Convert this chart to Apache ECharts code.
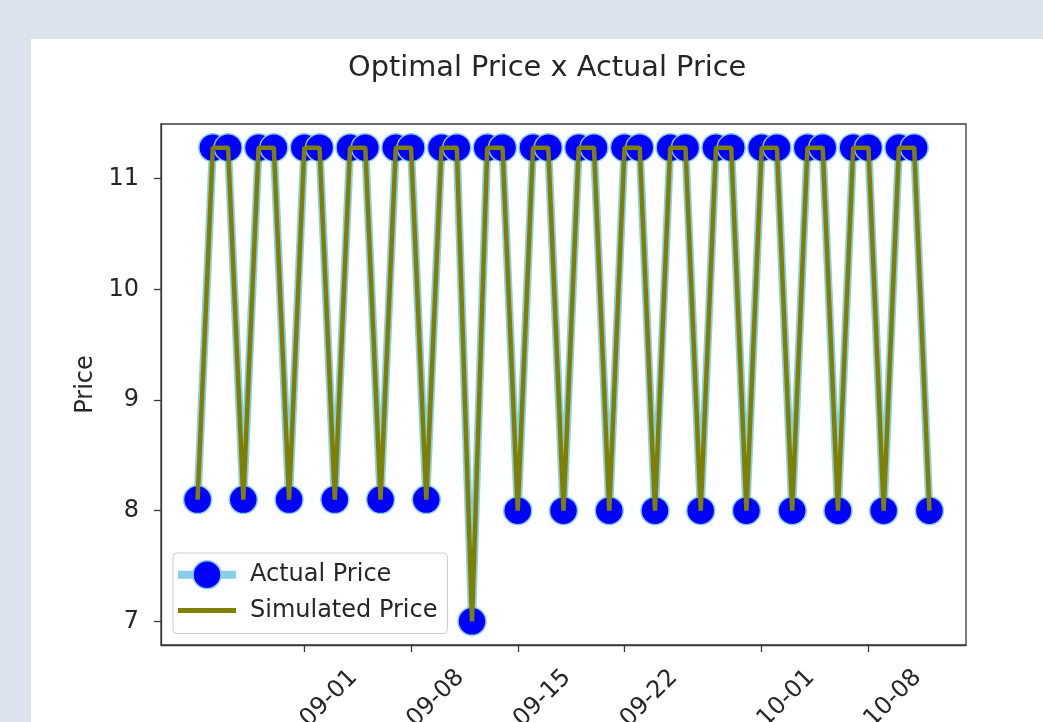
<!DOCTYPE html>
<html>
<head>
<meta charset="utf-8">
<script src="https://cdn.jsdelivr.net/npm/echarts@6/dist/echarts.min.js"></script>
<style>
  html, body { margin: 0; padding: 0; background: #dce3ec; }
  #chart { width: 1043px; height: 722px; }
</style>
</head>
<body>
<div id="chart"></div>
<script>
// Daily observations
const dates = [
  '2019-08-25','2019-08-26','2019-08-27','2019-08-28','2019-08-29','2019-08-30','2019-08-31',
  '2019-09-01','2019-09-02','2019-09-03','2019-09-04','2019-09-05','2019-09-06','2019-09-07',
  '2019-09-08','2019-09-09','2019-09-10','2019-09-11','2019-09-12','2019-09-13','2019-09-14',
  '2019-09-15','2019-09-16','2019-09-17','2019-09-18','2019-09-19','2019-09-20','2019-09-21',
  '2019-09-22','2019-09-23','2019-09-24','2019-09-25','2019-09-26','2019-09-27','2019-09-28',
  '2019-09-29','2019-09-30','2019-10-01','2019-10-02','2019-10-03','2019-10-04','2019-10-05',
  '2019-10-06','2019-10-07','2019-10-08','2019-10-09','2019-10-10','2019-10-11','2019-10-12'
];

const actualPrice = [
  8.1, 11.28, 11.28, 8.1, 11.28, 11.28, 8.1, 11.28, 11.28, 8.1, 11.28, 11.28,
  8.1, 11.28, 11.28, 8.1, 11.28, 11.28, 7.0, 11.28, 11.28, 8.0, 11.28, 11.28,
  8.0, 11.28, 11.28, 8.0, 11.28, 11.28, 8.0, 11.28, 11.28, 8.0, 11.28, 11.28,
  8.0, 11.28, 11.28, 8.0, 11.28, 11.28, 8.0, 11.28, 11.28, 8.0, 11.28, 11.28,
  8.0
];

const simulatedPrice = [
  8.1, 11.28, 11.28, 8.1, 11.28, 11.28, 8.1, 11.28, 11.28, 8.1, 11.28, 11.28,
  8.1, 11.28, 11.28, 8.1, 11.28, 11.28, 7.0, 11.28, 11.28, 8.0, 11.28, 11.28,
  8.0, 11.28, 11.28, 8.0, 11.28, 11.28, 8.0, 11.28, 11.28, 8.0, 11.28, 11.28,
  8.0, 11.28, 11.28, 8.0, 11.28, 11.28, 8.0, 11.28, 11.28, 8.0, 11.28, 11.28,
  8.0
];

const xTickDates = ['2019-09-01', '2019-09-08', '2019-09-15', '2019-09-22', '2019-10-01', '2019-10-08'];
const yTickValues = [7, 8, 9, 10, 11];

const FONT = 'DejaVu Sans';
const TEXT = '#262626';
const AXIS = '#3a3a3a';
const SKY = '#87ceeb';
const BLUE = '#0000ff';
const OLIVE = '#808000';

function toUTC(s) {
  const p = s.split('-').map(Number);
  return Date.UTC(p[0], p[1] - 1, p[2]);
}
function pad(n) { return n < 10 ? '0' + n : '' + n; }
function fmtDate(ms) {
  const d = new Date(ms);
  return d.getUTCFullYear() + '-' + pad(d.getUTCMonth() + 1) + '-' + pad(d.getUTCDate());
}

const xs = dates.map(toUTC);
const actualData = xs.map((x, i) => [x, actualPrice[i]]);
const simulatedData = xs.map((x, i) => [x, simulatedPrice[i]]);
const xTicks = xTickDates.map(toUTC);

// 5% padding on both axes, the way the plotting defaults pad data limits
const xMinData = Math.min(...xs), xMaxData = Math.max(...xs);
const xPad = (xMaxData - xMinData) * 0.05;
const allY = actualPrice.concat(simulatedPrice);
const yMinData = Math.min(...allY), yMaxData = Math.max(...allY);
const yPad = (yMaxData - yMinData) * 0.05;

const chart = echarts.init(document.getElementById('chart'), null, { renderer: 'canvas' });

chart.setOption({
  backgroundColor: '#dce3ec',
  animation: false,
  graphic: [{
    type: 'rect',
    z: -10,
    silent: true,
    shape: { x: 31, y: 39, width: 1012, height: 683 },
    style: { fill: '#ffffff' }
  }],
  title: {
    text: 'Optimal Price x Actual Price',
    left: 348,
    top: 54,
    padding: 0,
    textStyle: { fontFamily: FONT, fontSize: 28.8, fontWeight: 'normal', color: TEXT }
  },
  legend: {
    orient: 'vertical',
    left: 173,
    top: 553,
    padding: [7, 10, 9, 1],
    itemGap: 7,
    itemWidth: 58,
    itemHeight: 35,
    backgroundColor: 'rgba(255,255,255,0.8)',
    borderColor: '#cccccc',
    borderWidth: 1,
    borderRadius: 4,
    textStyle: { fontFamily: FONT, fontSize: 24, color: TEXT, padding: [0, 0, 0, 9] },
    data: [
      {
        name: 'Actual Price',
        lineStyle: { color: SKY, width: 8 },
        itemStyle: { color: BLUE, borderColor: SKY, borderWidth: 1.5 }
      },
      {
        name: 'Simulated Price',
        lineStyle: { color: OLIVE, width: 5 },
        itemStyle: { opacity: 0 }
      }
    ]
  },
  grid: {
    left: 161, top: 124, right: 77, bottom: 77,
    outerBoundsMode: 'none',
    containLabel: false,
    show: true,
    borderColor: AXIS,
    borderWidth: 1.3,
    backgroundColor: 'transparent'
  },
  xAxis: {
    type: 'value',
    min: xMinData - xPad,
    max: xMaxData + xPad,
    scale: true,
    splitLine: { show: false },
    axisLine: { show: true, lineStyle: { color: AXIS, width: 1.3 } },
    axisTick: { show: true, length: 7, lineStyle: { color: AXIS, width: 1.3 }, customValues: xTicks },
    axisLabel: {
      customValues: xTicks,
      formatter: (v) => fmtDate(v),
      rotate: 45,
      align: 'center',
      verticalAlign: 'middle',
      margin: 78,
      fontFamily: FONT,
      fontSize: 24,
      color: TEXT
    }
  },
  yAxis: {
    type: 'value',
    min: yMinData - yPad,
    max: yMaxData + yPad,
    name: 'Price',
    nameLocation: 'middle',
    nameGap: 53,
    nameTextStyle: { fontFamily: FONT, fontSize: 24, color: TEXT },
    splitLine: { show: false },
    axisLine: { show: true, lineStyle: { color: AXIS, width: 1.3 } },
    axisTick: { show: true, length: 7, lineStyle: { color: AXIS, width: 1.3 }, customValues: yTickValues },
    axisLabel: {
      customValues: yTickValues,
      margin: 22,
      fontFamily: FONT,
      fontSize: 24,
      color: TEXT
    }
  },
  series: [
    {
      name: 'Actual Price',
      type: 'line',
      data: actualData,
      z: 2,
      symbol: 'circle',
      symbolSize: 28,
      showAllSymbol: true,
      lineStyle: { color: SKY, width: 8 },
      itemStyle: { color: BLUE, borderColor: SKY, borderWidth: 1.5 }
    },
    {
      name: 'Simulated Price',
      type: 'line',
      data: simulatedData,
      z: 3,
      symbol: 'none',
      lineStyle: { color: OLIVE, width: 4.5 },
      itemStyle: { color: OLIVE }
    }
  ]
});
</script>
</body>
</html>
